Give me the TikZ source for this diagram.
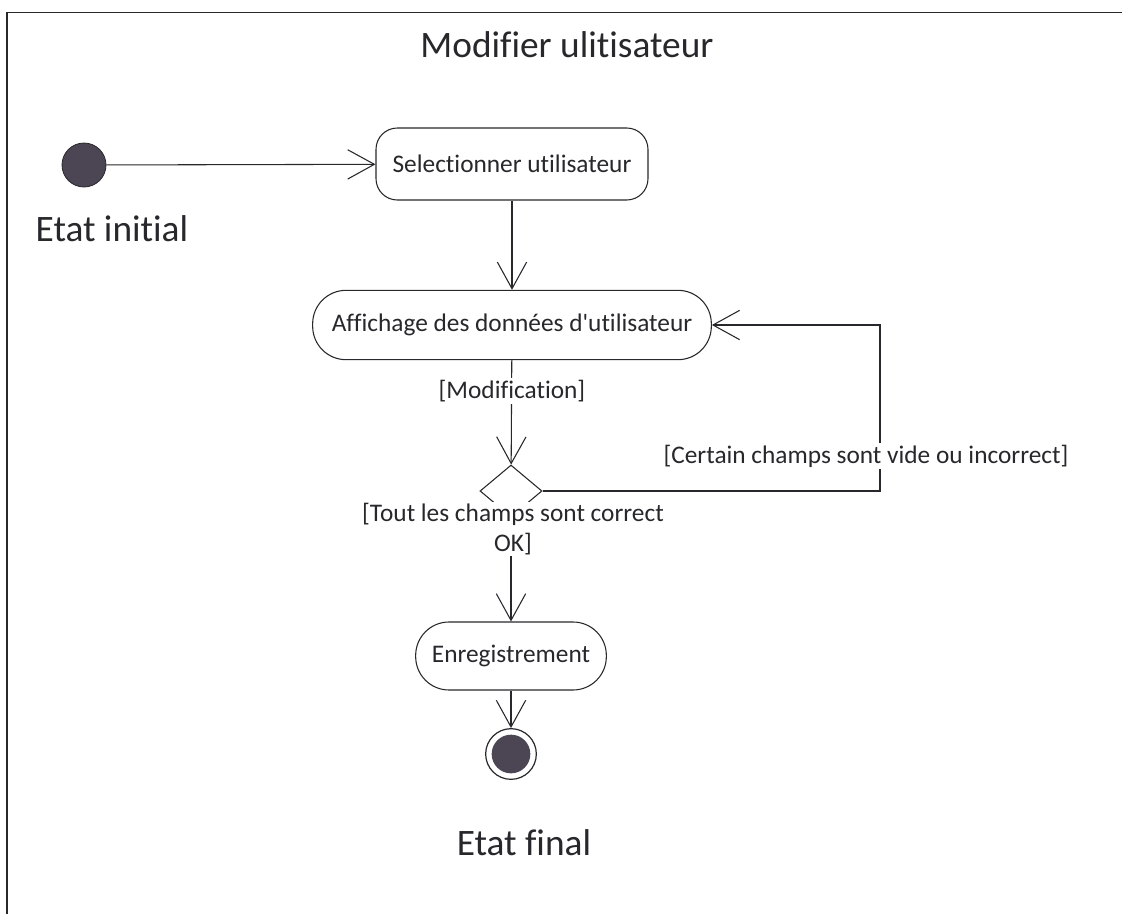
\documentclass[tikz,border=0pt]{standalone}
\usepackage{fontspec}
\setmainfont{Carlito}[Ligatures={NoCommon}]
\usetikzlibrary{arrows.meta,shapes.geometric}
\definecolor{ink}{RGB}{40,40,44}
\definecolor{dot}{RGB}{76,70,84}
\begin{document}
\begin{tikzpicture}[x=0.75pt,y=-0.75pt,
  every node/.style={text=ink},
  link/.style={draw=ink,line width=0.8pt},
  flow/.style={link,-{Straight Barb[length=20pt,width=22pt,line width=0.8pt]}},
  action/.style={draw=ink,line width=0.8pt,fill=white,inner sep=0pt,
    font=\fontsize{19}{23}\selectfont},
  guard/.style={fill=white,inner sep=1.5pt,font=\fontsize{19}{23}\selectfont,align=center},
  big/.style={font=\fontsize{28}{34}\selectfont}]
\useasboundingbox (0,0) rectangle (1122,914);
\fill[white] (0,0) rectangle (1122,914);
% frame
\draw[ink,line width=1.4pt] (7,914) -- (7,12.5) -- (1122,12.5);

\node[big] (title) at (567,45) {Modifier ulitisateur};

% start and its label
\node[circle,fill=dot,draw=ink,line width=0.6pt,minimum size=33pt,inner sep=0pt] (init) at (84,165) {};
\node[big] (initlbl) at (112,229) {Etat initial};

% actions
\node[action,rounded corners=16pt,minimum width=204pt,minimum height=54pt] (sel) at (512,164) {Selectionner utilisateur};
\node[action,rounded corners=25pt,minimum width=299pt,minimum height=52pt] (aff) at (512,325) {Affichage des données d\textquotesingle utilisateur};
\node[diamond,draw=ink,line width=0.8pt,minimum width=46.5pt,minimum height=39pt,inner sep=0pt] (dec) at (511,491) {};
\node[action,rounded corners=25pt,minimum width=143pt,minimum height=51pt] (enr) at (511,656) {Enregistrement};

% end
\node[circle,draw=ink,line width=0.9pt,fill=white,minimum size=38pt,inner sep=0pt] (fin) at (511,754) {};
\node[circle,fill=dot,minimum size=29pt,inner sep=0pt] (finin) at (fin.center) {};
\node[big] (finlbl) at (524,843) {Etat final};

% transitions
\coordinate (ret) at (880,491);
\draw[flow] (init) -- (sel);
\draw[flow] (sel) -- (aff);
\draw[flow] (aff) -- (dec);
\draw[flow] (dec.east) -- (ret) |- (aff.east);
\draw[flow] (dec.south) -- (enr);
\draw[flow] (enr) -- (fin);

% guards
\node[guard] (gmod) at (512,391) {[Modification]};
\node[guard] (gko) at (866,456) {[Certain champs sont vide ou incorrect]};
\node[guard,inner sep=0.5pt] (gok) at (513,529) {[Tout les champs sont correct\\OK]};
\end{tikzpicture}
\end{document}
